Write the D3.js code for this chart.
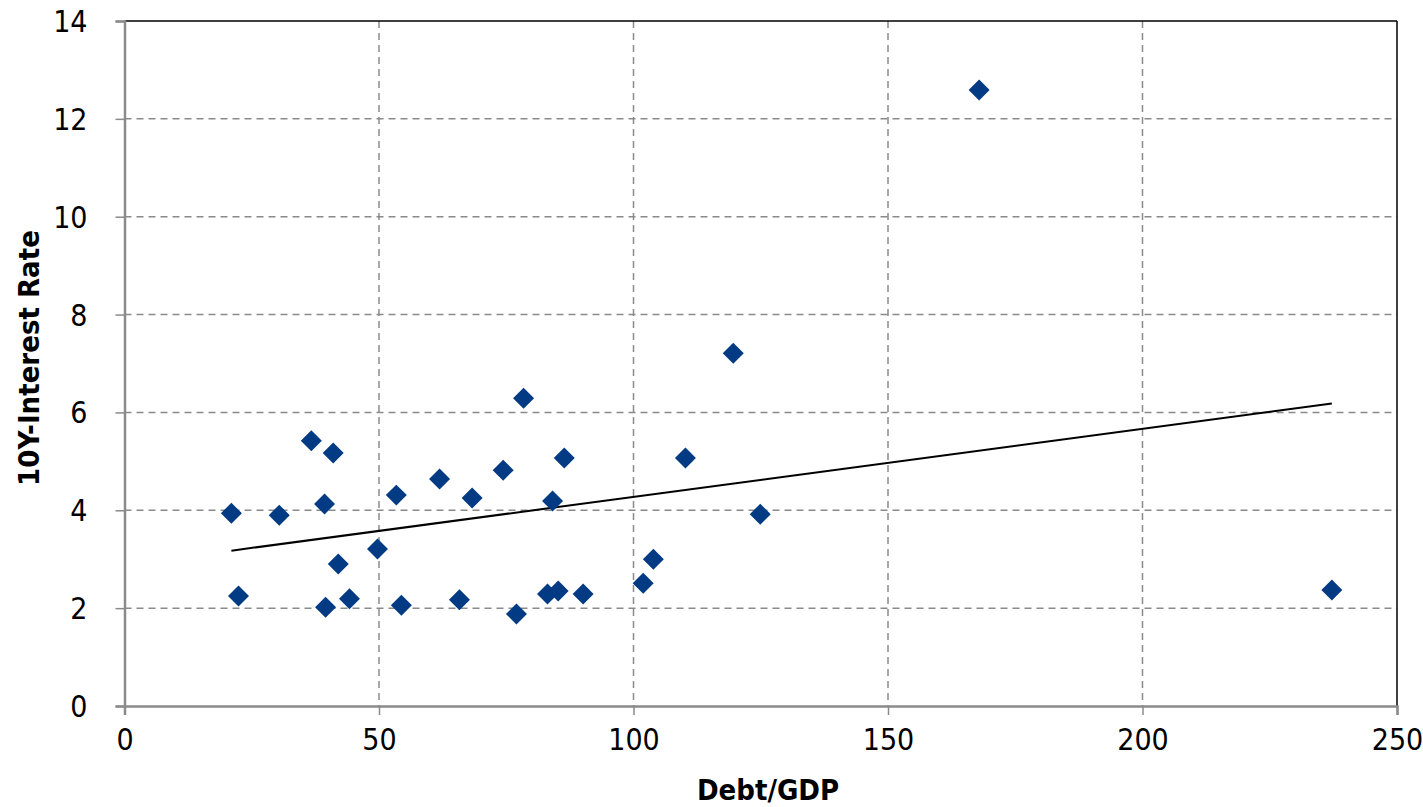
<!DOCTYPE html>
<html><head><meta charset="utf-8">
<script src="https://cdn.jsdelivr.net/npm/d3@7"></script>
<style>
body{margin:0;background:#fff;}
text{font-family:"DejaVu Sans Condensed","DejaVu Sans",sans-serif;font-stretch:condensed;}
</style></head>
<body><svg id="c" width="1423" height="807"></svg>
<script>
const debtGDP = [21.0,22.4,30.4,36.7,39.3,39.5,41.0,42.0,44.2,49.7,53.4,54.4,61.9,65.8,68.3,74.4,77.0,78.4,83.1,84.1,85.2,86.4,90.1,101.9,103.9,110.2,119.6,124.9,167.9,237.2];
const rate10Y = [3.94,2.25,3.90,5.42,4.13,2.02,5.17,2.90,2.19,3.21,4.31,2.06,4.64,2.17,4.25,4.82,1.88,6.29,2.29,4.19,2.35,5.07,2.29,2.51,3.00,5.07,7.21,3.92,12.59,2.37];
const xTicks = [0,50,100,150,200,250];
const yTicks = [0,2,4,6,8,10,12,14];

const svg = d3.select("#c");
const L=124.5,R=1397,T=21,B=706;
const x = d3.scaleLinear().domain([0,250]).range([L,R]);
const y = d3.scaleLinear().domain([0,14]).range([B,T]);

// grid
svg.append("g").selectAll("line").data(yTicks.filter(d=>d>0&&d<14)).join("line")
 .attr("x1",L).attr("x2",R).attr("y1",d=>y(d)).attr("y2",d=>y(d))
 .attr("stroke","#8a8a8a").attr("stroke-width",1.5).attr("stroke-dasharray","7,5");
svg.append("g").selectAll("line").data(xTicks.filter(d=>d>0&&d<250)).join("line")
 .attr("y1",T).attr("y2",B).attr("x1",d=>x(d)).attr("x2",d=>x(d))
 .attr("stroke","#8a8a8a").attr("stroke-width",1.5).attr("stroke-dasharray","7,5");

// border top/right
svg.append("line").attr("x1",L).attr("x2",R).attr("y1",T).attr("y2",T).attr("stroke","#000").attr("stroke-width",1.5);
svg.append("line").attr("x1",R).attr("x2",R).attr("y1",T).attr("y2",B).attr("stroke","#000").attr("stroke-width",1.5);

// axes
const xAxis = svg.append("g").attr("transform",`translate(0,${B})`)
 .call(d3.axisBottom(x).tickValues(xTicks).tickSize(9).tickPadding(14));
const yAxis = svg.append("g").attr("transform",`translate(${L},0)`)
 .call(d3.axisLeft(y).tickValues(yTicks).tickSize(9).tickPadding(28));
[xAxis,yAxis].forEach(a=>{
  a.select(".domain").attr("stroke","#8a8a8a").attr("stroke-width",2.5);
  a.selectAll(".tick line").attr("stroke","#8a8a8a").attr("stroke-width",1.5);
  a.selectAll("text").attr("font-size",30).attr("fill","#000")
   .style("font-family",'"DejaVu Sans Condensed","DejaVu Sans",sans-serif');
});
yAxis.selectAll(".tick text").attr("dy","0.35em");

// trend line (least squares)
const n=debtGDP.length;
const mx=d3.mean(debtGDP), my=d3.mean(rate10Y);
let sxy=0,sxx=0;
for(let i=0;i<n;i++){sxy+=(debtGDP[i]-mx)*(rate10Y[i]-my);sxx+=(debtGDP[i]-mx)**2;}
const slope=sxy/sxx, icpt=my-slope*mx;
const [x0,x1]=d3.extent(debtGDP);
svg.append("line").attr("x1",x(x0)).attr("x2",x(x1))
 .attr("y1",y(icpt+slope*x0)).attr("y2",y(icpt+slope*x1))
 .attr("stroke","#000").attr("stroke-width",2);

// points
svg.append("g").selectAll("path").data(debtGDP.map((d,i)=>[d,rate10Y[i]])).join("path")
 .attr("d",d3.symbol(d3.symbolSquare,220)())
 .attr("transform",d=>`translate(${x(d[0])},${y(d[1])}) rotate(45)`)
 .attr("fill","#023a84");

// titles
svg.append("text").attr("x",768).attr("y",800).attr("text-anchor","middle")
 .attr("font-size",29).attr("font-weight","bold").text("Debt/GDP");
svg.append("text").attr("transform","translate(39,358) rotate(-90)").attr("text-anchor","middle")
 .attr("font-size",29).attr("font-weight","bold").text("10Y-Interest Rate");
</script></body></html>
